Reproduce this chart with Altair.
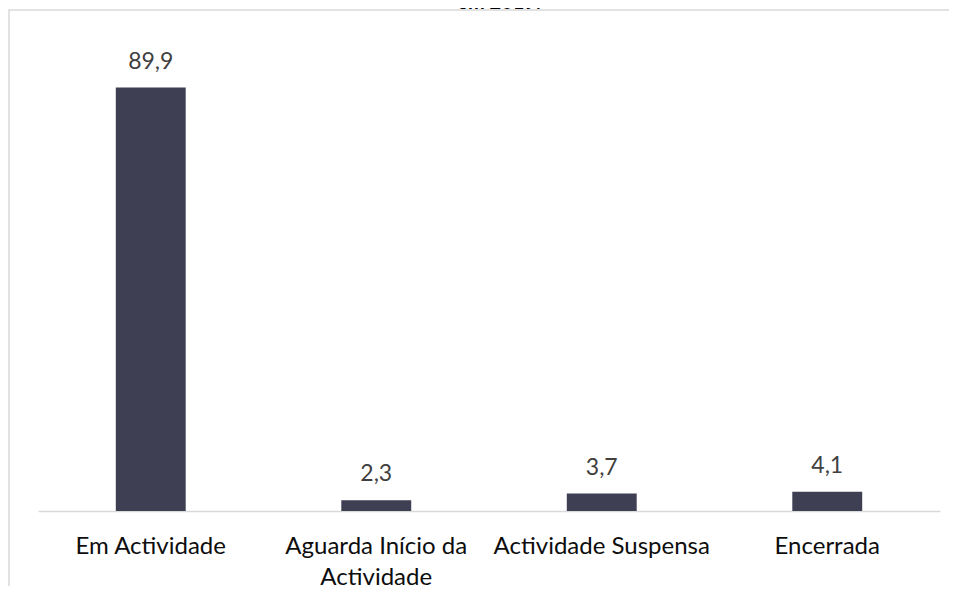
import altair as alt
import pandas as pd

categories = ["Em Actividade", "Aguarda Início da Actividade", "Actividade Suspensa", "Encerrada"]
values = [89.9, 2.3, 3.7, 4.1]
title_text = "em 2019."

df = pd.DataFrame({"cat": categories, "val": values})

FONT = "Lato"
BAR = "#3e3f52"
GRID = "#d9d9d9"

x_enc = alt.X(
    "cat:N",
    sort=categories,
    scale=alt.Scale(paddingInner=0.69, paddingOuter=0.345),
    axis=alt.Axis(
        title=None,
        labelAngle=0,
        ticks=False,
        tickSize=0,
        domainColor=GRID,
        domainWidth=1.5,
        labelFont=FONT,
        labelFontSize=24,
        labelColor="#0d0d0d",
        labelBaseline="alphabetic",
        labelPadding=42,
        labelLineHeight=31,
        labelLimit=300,
        labelExpr="datum.label == 'Aguarda Início da Actividade' ? ['Aguarda Início da', 'Actividade'] : datum.label",
    ),
)
y_enc = alt.Y("val:Q", scale=alt.Scale(domain=[0, 100]), axis=None)

bars = alt.Chart(df).mark_bar(color=BAR).encode(x=x_enc, y=y_enc)

labels = (
    alt.Chart(df)
    .transform_calculate(lbl="replace(format(datum.val, '.1f'), '.', ',')")
    .mark_text(font=FONT, fontSize=23, color="#404040", baseline="alphabetic", dy=-19)
    .encode(x=alt.X("cat:N", sort=categories), y="val:Q", text="lbl:N")
)

frame = (
    alt.Chart(pd.DataFrame({"f": [0]}))
    .mark_rect(fill=None, fillOpacity=0, stroke=GRID, strokeWidth=1.5)
    .encode(x=alt.value(-29), x2=alt.value(1100), y=alt.value(-30), y2=alt.value(800))
)
title = alt.Chart(pd.DataFrame({"t": [title_text]})).mark_text(
    font=FONT, fontSize=20, fontWeight="bold", color="#000000", baseline="alphabetic", align="center"
).encode(x=alt.value(461), y=alt.value(-31), text="t:N")

chart = (
    alt.layer(frame, bars, labels, title)
    .properties(
        width=902,
        height=471,
        padding={"left": 30, "top": 32, "right": 9, "bottom": 75},
        background="#ffffff",
        autosize=alt.AutoSizeParams(type="none"),
    )
    .configure_view(stroke=None)
)

chart.save("out.html", embed_options={"renderer": "svg", "actions": False})
